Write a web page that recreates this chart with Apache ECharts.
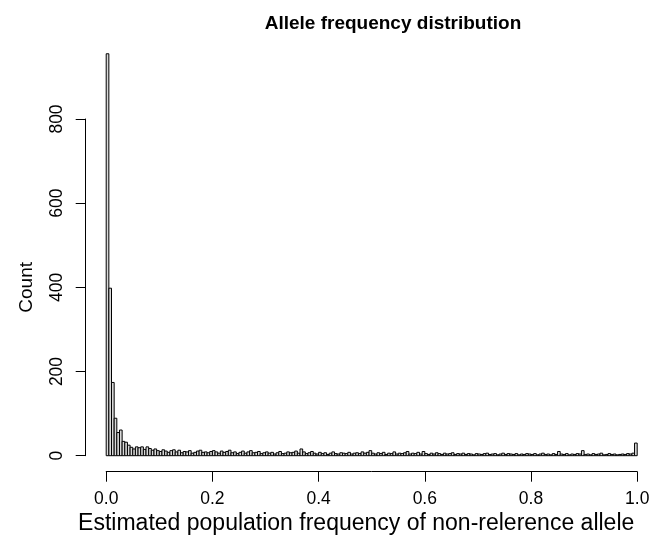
<!DOCTYPE html>
<html>
<head>
<meta charset="utf-8">
<script src="https://cdn.jsdelivr.net/npm/echarts@6/dist/echarts.min.js"></script>
<style>html,body{margin:0;padding:0;background:#fff}#c{width:651px;height:537px}</style>
</head>
<body>
<div id="c"></div>
<script>
var titleText = "Allele frequency distribution";
var xTitle = "Estimated population frequency of non-relerence allele";
var yTitle = "Count";
var binWidth = 0.005;
var xTicks = [0, 0.2, 0.4, 0.6, 0.8, 1.0];
var yTicks = [0, 200, 400, 600, 800];
var counts = [
  955, 398, 174, 89, 55, 61, 34, 32, 25, 20, 16, 21, 19, 21, 15, 21, 17, 13, 16, 12,
  10, 14, 11, 8, 12, 14, 9, 13, 7, 10, 9, 12, 6, 8, 11, 13, 8, 9, 7, 10,
  12, 9, 6, 11, 8, 10, 13, 7, 9, 5, 8, 11, 6, 9, 12, 7, 8, 10, 5, 7,
  9, 6, 8, 4, 7, 10, 5, 6, 9, 7, 8, 11, 6, 16, 9, 5, 7, 10, 6, 4,
  8, 5, 7, 3, 6, 9, 5, 4, 7, 6, 5, 8, 4, 6, 7, 5, 9, 6, 8, 12,
  6, 4, 7, 5, 8, 3, 6, 5, 9, 4, 6, 5, 7, 10, 4, 6, 5, 8, 4, 10,
  5, 3, 6, 4, 7, 5, 3, 6, 4, 5, 7, 3, 5, 4, 6, 3, 5, 4, 2, 5,
  4, 3, 5, 6, 3, 4, 5, 2, 4, 6, 3, 5, 4, 3, 5, 2, 4, 3, 5, 4,
  3, 5, 2, 4, 6, 3, 4, 2, 5, 3, 10, 4, 3, 5, 2, 4, 3, 5, 4, 12,
  3, 4, 2, 5, 3, 4, 6, 2, 3, 5, 3, 4, 2, 3, 4, 3, 5, 4, 6, 30
];
var data = counts.map(function (c, i) { return [i * binWidth, (i + 1) * binWidth, c]; });

var chart = echarts.init(document.getElementById('c'), null, {renderer: 'canvas'});
var font = 'Liberation Sans, Arial, Helvetica, sans-serif';
chart.setOption({
  animation: false,
  backgroundColor: '#ffffff',
  title: {
    text: titleText, left: 388, top: 9, textAlign: 'center',
    textStyle: {fontFamily: font, fontWeight: 'bold', fontSize: 19, color: '#000'}
  },
  grid: {left: 106.2, right: 13.8, top: 119, bottom: 81.3, containLabel: false, outerBoundsMode: 'none'},
  xAxis: {
    type: 'value', min: 0, max: 1, interval: 0.2, offset: 16,
    axisLine: {show: true, onZero: false, lineStyle: {color: '#000', width: 1}},
    axisTick: {show: true, length: 10, lineStyle: {color: '#000'}},
    axisLabel: {margin: 18, fontFamily: font, fontSize: 17.5, color: '#000',
      formatter: function (v) { return v.toFixed(1); }},
    splitLine: {show: false},
    name: xTitle, nameLocation: 'middle', nameGap: 40,
    nameTextStyle: {fontFamily: font, fontSize: 23, color: '#000', padding: [0, 31, 0, 0]}
  },
  yAxis: {
    type: 'value', min: 0, max: 800, interval: 200, offset: 20.5,
    axisLine: {show: true, onZero: false, lineStyle: {color: '#000', width: 1}},
    axisTick: {show: true, length: 10, lineStyle: {color: '#000'}},
    axisLabel: {rotate: 90, margin: 20, fontFamily: font, fontSize: 17.5, color: '#000'},
    splitLine: {show: false},
    name: yTitle, nameLocation: 'middle', nameGap: 49, nameRotate: 90,
    nameTextStyle: {fontFamily: font, fontSize: 19, color: '#000'}
  },
  series: [{
    type: 'custom',
    clip: false,
    data: data,
    encode: {x: [0, 1], y: 2},
    renderItem: function (params, api) {
      var p0 = api.coord([api.value(0), 0]);
      var p1 = api.coord([api.value(1), api.value(2)]);
      return {
        type: 'rect',
        shape: {x: p0[0], y: p1[1], width: p1[0] - p0[0], height: p0[1] - p1[1]},
        style: {fill: '#d9d9d9', stroke: '#000', lineWidth: 1}
      };
    }
  }]
});
</script>
</body>
</html>
